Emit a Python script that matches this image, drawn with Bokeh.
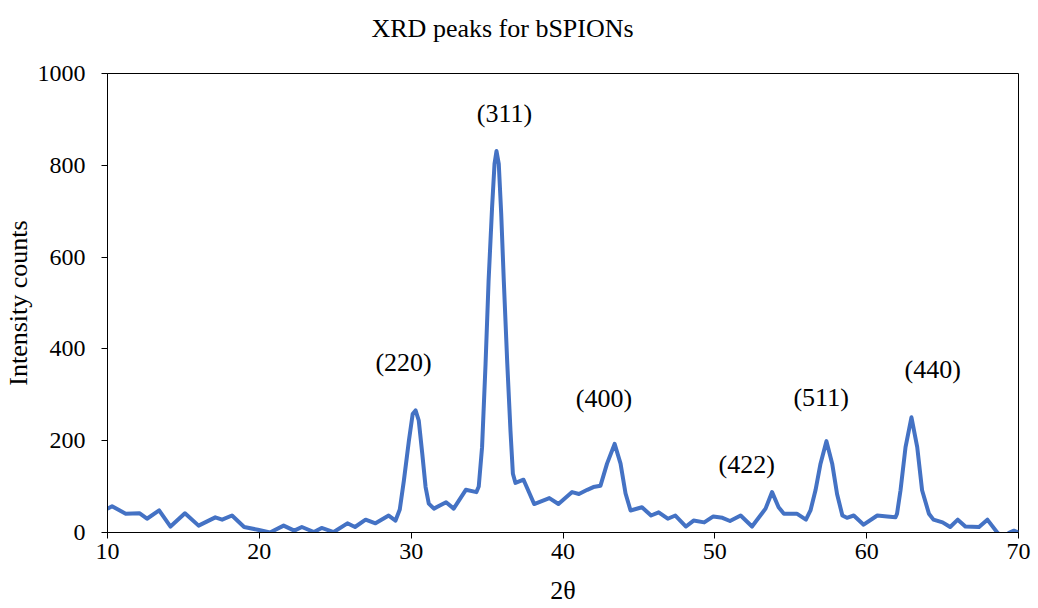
from bokeh.plotting import figure
from bokeh.models import Range1d, FixedTicker, Label
from bokeh.embed import file_html
from bokeh.resources import INLINE

two_theta = [10.0, 10.3, 11.2, 12.1, 12.6, 13.4, 14.15, 15.1, 16.0, 17.1, 17.55, 18.2, 19.0, 19.9,
             20.7, 21.6, 22.3, 22.8, 23.6, 24.1, 24.9, 25.8, 26.3, 27.0, 27.65, 28.52, 28.97, 29.25,
             29.52, 29.85, 30.1, 30.29, 30.5, 30.73, 30.95, 31.16, 31.5, 32.3, 32.8, 33.6, 34.3, 34.45,
             34.67, 34.9, 35.1, 35.33, 35.49, 35.62, 35.77, 35.93, 36.1, 36.33, 36.54, 36.7, 36.87, 37.4,
             38.1, 39.1, 39.7, 40.6, 41.05, 41.6, 42.0, 42.47, 42.9, 43.4, 43.79, 44.12, 44.45, 45.2,
             45.8, 46.3, 46.9, 47.4, 48.1, 48.6, 49.3, 49.9, 50.5, 51.0, 51.7, 52.45, 53.34, 53.77,
             54.2, 54.55, 55.4, 56.0, 56.3, 56.63, 56.96, 57.35, 57.73, 58.05, 58.4, 58.7, 59.15, 59.8,
             60.7, 61.35, 61.9, 62.0, 62.23, 62.56, 62.95, 63.33, 63.65, 64.1, 64.4, 65.0, 65.5, 66.0,
             66.5, 67.4, 67.95, 68.6, 69.0, 69.4, 69.7, 70.0]
intensity = [52, 57, 41, 42, 30, 48, 13, 42, 15, 33, 28, 37, 12, 6,
             0, 15, 4, 12, 1, 10, 1, 20, 12, 28, 20, 37, 26, 50,
             113, 200, 258, 266, 244, 172, 99, 63, 52, 66, 52, 93, 88, 100,
             186, 368, 549, 709, 803, 831, 803, 695, 549, 368, 222, 128, 108, 115,
             62, 75, 62, 88, 84, 93, 99, 102, 150, 193, 150, 85, 48, 55,
             37, 44, 30, 37, 13, 26, 22, 35, 32, 25, 37, 13, 52, 88,
             55, 41, 41, 28, 48, 92, 150, 199, 150, 84, 37, 32, 37, 17,
             37, 35, 33, 41, 92, 186, 251, 186, 92, 41, 28, 22, 12, 28,
             13, 12, 28, 0, -12, 0, 4, 0]

peak_labels = ["(220)", "(311)", "(400)", "(422)", "(511)", "(440)"]
label_x = [29.5, 36.15, 42.7, 52.1, 57.0, 64.35]
label_y = [370, 913, 292, 148, 294, 355]

x_ticks = [10, 20, 30, 40, 50, 60, 70]
y_ticks = [0, 200, 400, 600, 800, 1000]

chart_title = "XRD peaks for bSPIONs"

FONT = "Liberation Serif"

p = figure(frame_width=911, frame_height=459, output_backend="svg", toolbar_location=None,
           x_range=Range1d(10, 70), y_range=Range1d(0, 1000),
           min_border_left=107, min_border_right=20, min_border_top=73, min_border_bottom=74,
           title=chart_title + "\n ")
p.title.text_font = FONT
p.title.text_font_size = "26px"
p.title.text_font_style = "normal"
p.title.text_color = "black"
p.title.align = "left"
p.title.offset = 264
p.title.standoff = 4

p.line(two_theta, intensity, line_color="#4472C4", line_width=4, line_join="round")

for t, lx, ly in zip(peak_labels, label_x, label_y):
    p.add_layout(Label(x=lx, y=ly, text=t, text_font=FONT, text_font_size="26px",
                       text_align="center", text_baseline="middle", text_color="black"))

p.xgrid.visible = False
p.ygrid.visible = False
p.outline_line_color = "black"
p.outline_line_width = 1
p.background_fill_color = "white"
p.border_fill_color = "white"

p.xaxis.ticker = FixedTicker(ticks=x_ticks)
p.yaxis.ticker = FixedTicker(ticks=y_ticks)
for ax in (p.xaxis, p.yaxis):
    ax.major_label_text_font = FONT
    ax.major_label_text_font_size = "24px"
    ax.major_label_text_color = "black"
    ax.axis_label_text_font = FONT
    ax.axis_label_text_font_size = "26px"
    ax.axis_label_text_font_style = "normal"
    ax.axis_label_text_color = "black"
    ax.axis_line_color = "black"
    ax.major_tick_line_color = "black"
    ax.major_tick_out = 6
    ax.major_tick_in = 0
    ax.minor_tick_line_color = None
p.xaxis.axis_label = "2θ"
p.yaxis.axis_label = "Intensity counts"
p.xaxis.major_label_standoff = 5
p.yaxis.major_label_standoff = 16
p.xaxis.axis_label_standoff = 14
p.yaxis.axis_label_standoff = 2

open("out.html", "w").write(file_html(p, INLINE))
